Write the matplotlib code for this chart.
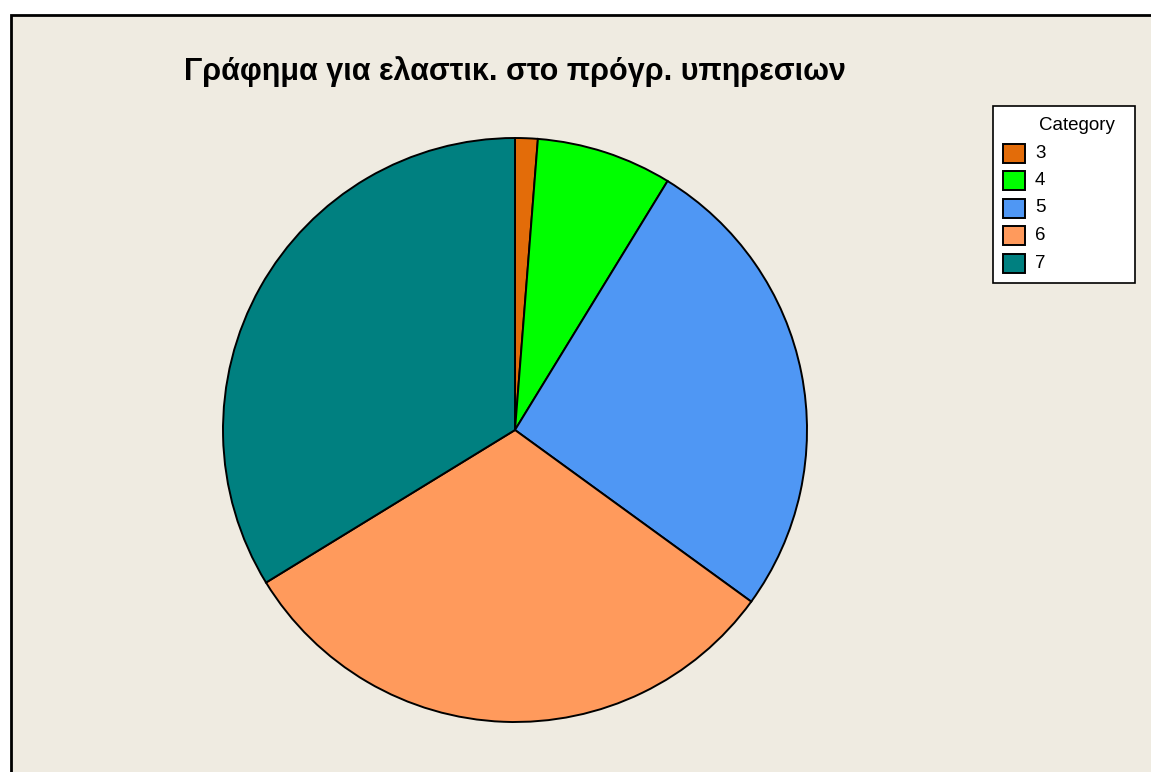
import matplotlib.pyplot as plt
from matplotlib.patches import Rectangle

categories = ['3', '4', '5', '6', '7']
counts = [1, 6, 21, 25, 27]
colors = ['#E36C09', '#00FF00', '#4F97F4', '#FF9A5C', '#008080']
title = 'Γράφημα για ελαστικ. στο πρόγρ. υπηρεσιων'

W, H = 1151, 772
fig = plt.figure(figsize=(W / 100, H / 100), dpi=100)
fig.patch.set_facecolor('white')


def px(x, y):
    # pixel coords (from top-left) -> figure fraction
    return x / W, (H - y) / H


# beige panel with black border on top/left (cropped at right/bottom)
fig.patches.append(Rectangle(px(11, H + 5), 1.01, (H - 14.5 + 5) / H,
                             transform=fig.transFigure, facecolor='#EFEBE1',
                             edgecolor='black', linewidth=2, zorder=0))

# pie: center (515, 430), radius ~292 px
r = 292
ax = fig.add_axes([(515 - r) / W, (H - 430 - r) / H, 2 * r / W, 2 * r / H])
ax.set_zorder(2)
ax.pie(counts, colors=colors, startangle=90, counterclock=False, radius=1,
       wedgeprops=dict(edgecolor='black', linewidth=1.4))
ax.set_xlim(-1, 1)
ax.set_ylim(-1, 1)
ax.set_aspect('equal')
ax.axis('off')

fig.text(*px(515, 72), title, ha='center', va='center',
         fontsize=22, fontweight='bold', family=['Liberation Sans', 'DejaVu Sans'])

# legend box drawn by hand
lax = fig.add_axes([0, 0, 1, 1])
lax.set_zorder(3)
lax.set_xlim(0, W)
lax.set_ylim(H, 0)
lax.axis('off')
lax.add_patch(Rectangle((993, 106), 142, 177, facecolor='white',
                        edgecolor='black', linewidth=1.2))
lax.text(1077, 126, 'Category', ha='center', va='center', fontsize=13.5,
         family='Liberation Sans')
for i, (c, lab) in enumerate(zip(colors, categories)):
    y = 153 + i * 27.5
    lax.add_patch(Rectangle((1003, y - 9.5), 22, 19, facecolor=c,
                            edgecolor='black', linewidth=1.4))
    lax.text(1035, y, lab, ha='left', va='center', fontsize=13.5,
             family='Liberation Sans')

fig.savefig('out.png', dpi=100)
